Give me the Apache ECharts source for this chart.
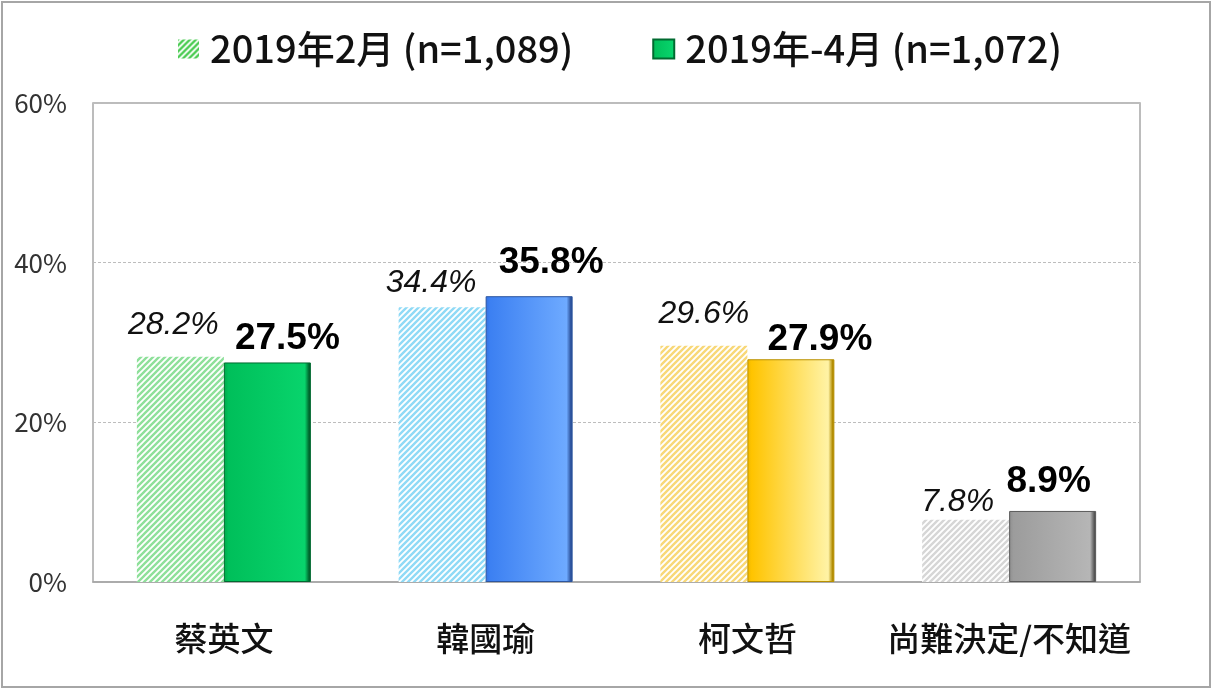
<!DOCTYPE html>
<html>
<head>
<meta charset="utf-8">
<script src="https://cdn.jsdelivr.net/npm/echarts@6/dist/echarts.min.js"></script>
<style>
  html, body { margin: 0; padding: 0; background: #fff; }
  #main { width: 1212px; height: 689px; }
</style>
</head>
<body>
<div id="main"></div>
<script>
// 資料
var categories = ['蔡英文', '韓國瑜', '柯文哲', '尚難決定/不知道'];
var seriesNames = ['2019年2月 (n=1,089)', '2019年-4月 (n=1,072)'];
var febValues = [28.2, 34.4, 29.6, 7.8];
var aprValues = [27.5, 35.8, 27.9, 8.9];
var yTicks = [0, 20, 40, 60];

// 標籤位移 (原圖手動調整過)
var febLabelOffsets = [[-7, -10], [-11, -2], [0, -10], [-8, 4]];
var aprLabelOffsets = [[20, 0], [22, -10], [29, 4], [-4, -6]];

// 斜線花紋
function hatch(color) {
  var c = document.createElement('canvas');
  c.width = 6; c.height = 6;
  var g = c.getContext('2d');
  g.fillStyle = '#fff';
  g.fillRect(0, 0, 6, 6);
  g.strokeStyle = color;
  g.lineWidth = 2.4;
  g.beginPath();
  g.moveTo(-1, 7); g.lineTo(7, -1);
  g.moveTo(-4, 4); g.lineTo(4, -4);
  g.moveTo(2, 10); g.lineTo(10, 2);
  g.stroke();
  return { image: c, repeat: 'repeat' };
}

// 立體感漸層
function bevel(c0, c1, c2, edge) {
  return new echarts.graphic.LinearGradient(0, 0, 1, 0, [
    { offset: 0, color: c0 },
    { offset: 0.05, color: c1 },
    { offset: 0.93, color: c2 },
    { offset: 0.98, color: edge },
    { offset: 1, color: edge }
  ]);
}

var hatchColors = ['#8ee09a', '#90daf6', '#f8d878', '#d6d6d6'];
var solidStyles = [
  { color: bevel('#00a848', '#00bf5a', '#08d46c', '#00622c'), borderColor: '#006a30' },
  { color: bevel('#3470e0', '#3c80f2', '#6eaaff', '#2a4f98'), borderColor: '#2c56a0' },
  { color: bevel('#f0b800', '#ffc400', '#fff3a6', '#b08a00'), borderColor: '#b89000' },
  { color: bevel('#8e8e8e', '#9c9c9c', '#b6b6b6', '#555555'), borderColor: '#5a5a5a' }
];

var febData = febValues.map(function (v, i) {
  return {
    value: v,
    itemStyle: { color: hatch(hatchColors[i]) },
    label: { offset: febLabelOffsets[i] }
  };
});
var aprData = aprValues.map(function (v, i) {
  return {
    value: v,
    itemStyle: { color: solidStyles[i].color, borderColor: solidStyles[i].borderColor, borderWidth: 1 },
    label: { offset: aprLabelOffsets[i] }
  };
});

var chart = echarts.init(document.getElementById('main'));
var option = {
  animation: false,
  graphic: [{
    type: 'rect',
    shape: { x: 2, y: 2, width: 1208, height: 685 },
    style: { fill: 'none', stroke: '#a6a6a6', lineWidth: 2 },
    silent: true
  }],
  legend: {
    top: 25,
    left: 173,
    itemGap: 79,
    itemWidth: 21,
    itemHeight: 19,
    icon: 'rect',
    textStyle: {
      fontFamily: 'Noto Sans CJK TC',
      fontSize: 38,
      fontWeight: 500,
      color: '#111',
      padding: [0, 0, 0, 6]
    },
    data: seriesNames
  },
  grid: {
    left: 93, right: 72, top: 103, bottom: 107,
    show: true,
    borderColor: '#a6a6a6',
    borderWidth: 1.5
  },
  xAxis: {
    type: 'category',
    data: categories,
    axisLine: { lineStyle: { color: '#a6a6a6', width: 1.5 } },
    axisTick: { inside: true, length: 10, lineStyle: { color: '#a6a6a6' } },
    axisLabel: {
      interval: 0,
      margin: 40,
      fontFamily: 'Noto Sans CJK TC',
      fontSize: 33,
      fontWeight: 500,
      color: '#111'
    }
  },
  yAxis: {
    type: 'value',
    min: yTicks[0],
    max: yTicks[yTicks.length - 1],
    interval: 20,
    axisLine: { show: false },
    axisTick: { show: false },
    splitLine: { lineStyle: { color: '#bdbdbd', type: [3, 2], width: 1 } },
    axisLabel: {
      margin: 26,
      fontFamily: 'Noto Sans CJK TC',
      fontSize: 26,
      color: '#333',
      formatter: '{value}%'
    }
  },
  series: [
    {
      name: seriesNames[0],
      type: 'bar',
      barWidth: 87,
      barGap: '0%',
      itemStyle: { color: hatch('#4ccc54') },
      label: {
        show: true,
        position: 'top',
        distance: 6,
        fontFamily: 'Liberation Sans',
        fontStyle: 'italic',
        fontSize: 32,
        color: '#111',
        formatter: function (p) { return p.value.toFixed(1) + '%'; }
      },
      data: febData
    },
    {
      name: seriesNames[1],
      type: 'bar',
      barWidth: 87,
      barGap: '0%',
      itemStyle: { color: solidStyles[0].color, borderColor: '#006a30', borderWidth: 1 },
      label: {
        show: true,
        position: 'top',
        distance: 5,
        fontFamily: 'Liberation Sans',
        fontWeight: 'bold',
        fontSize: 37,
        color: '#000',
        formatter: function (p) { return p.value.toFixed(1) + '%'; }
      },
      data: aprData
    }
  ]
};
chart.setOption(option);
</script>
</body>
</html>
